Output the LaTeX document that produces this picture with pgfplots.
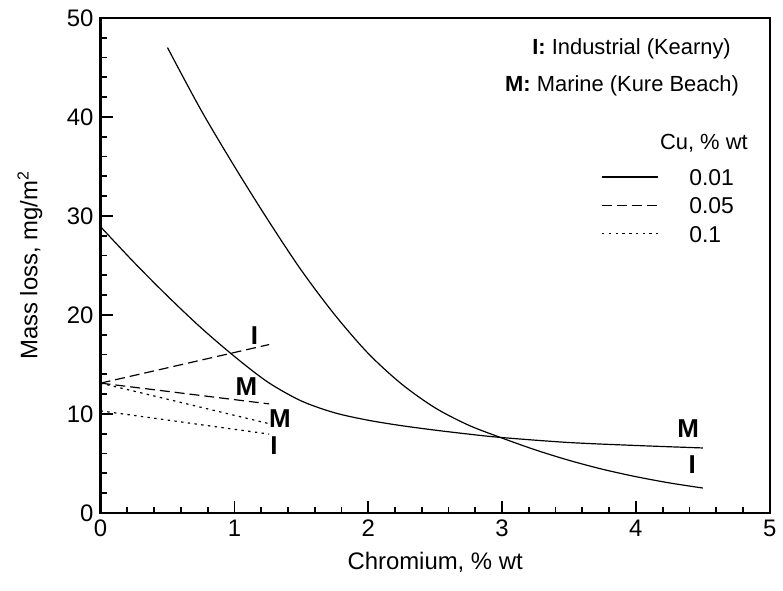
\documentclass[border=0pt]{standalone}
\usepackage{fontspec}
\setmainfont{Liberation Sans}
\usepackage{pgfplots}
\pgfplotsset{compat=1.18}

\begin{document}
\begin{tikzpicture}
\begin{axis}[
    scale only axis,
    width=336pt, height=248.5pt,
    xmin=0, xmax=5, ymin=0, ymax=50,
    xtick={0,1,2,3,4,5},
    ytick={0,10,20,30,40,50},
    minor x tick num=4, minor y tick num=4,
    tick align=inside,
    xtick pos=bottom, ytick pos=left,
    major tick length=6pt, minor tick length=3pt,
    tick style={black, line width=0.9pt},
    axis line style={line width=1.2pt},
    tick label style={font=\fontsize{12}{14}\selectfont},
    /pgf/number format/assume math mode=true,
    label style={font=\fontsize{12}{14}\selectfont},
    xlabel={Chromium, \% wt},
    ylabel={Mass loss, mg/m\textsuperscript{2}},
    xlabel style={at={(axis description cs:0.5,-0.1006)}, anchor=center},
    ylabel style={at={(axis description cs:-0.1057,0.5)}, anchor=center},
    clip=false,
    legend style={draw=none, fill=none, inner sep=0pt,
        at={(axis cs:3.74,34.8)}, anchor=north west,
        font=\fontsize{11.5}{13}\selectfont,
        row sep=5.9pt,
        nodes={inner sep=0pt, text height=8.35pt, text depth=0pt},
        /tikz/every odd column/.append style={column sep=15.5pt}},
    legend cell align=left,
    legend image code/.code={\draw[#1] (0pt,0pt) -- (28pt,0pt);},
]

% Cu 0.01 -- industrial
\addplot[black, line width=0.6pt, smooth] coordinates {
    (0.5,47.0) (0.75,40.7) (1.0,35.0) (1.25,29.6) (1.5,24.5) (1.75,20.0)
    (2.0,16.1) (2.25,13.0) (2.5,10.6) (2.75,8.85) (3.0,7.55) (3.25,6.35)
    (3.5,5.3) (3.75,4.4) (4.0,3.65) (4.25,3.02) (4.5,2.5)
};
\addlegendentry{0.01}
% Cu 0.01 -- marine
\addplot[black, line width=0.6pt, smooth, forget plot] coordinates {
    (0,28.9) (0.25,25.3) (0.5,21.9) (0.75,18.7) (1.0,15.8) (1.25,13.2)
    (1.5,11.3) (1.75,10.1) (2.0,9.35) (2.25,8.8) (2.5,8.35) (2.75,7.95)
    (3.0,7.6) (3.5,7.1) (4.0,6.8) (4.5,6.55)
};
% Cu 0.05
\addplot[black, line width=0.6pt, dash pattern=on 5pt off 2.5pt] coordinates {
    (0,13.1) (1.26,17.0)
};
\addlegendentry{0.05}
\addplot[black, line width=0.6pt, dash pattern=on 5pt off 2.5pt, forget plot] coordinates {
    (0,13.1) (1.26,11.0)
};
% Cu 0.1
\addplot[black, line width=0.6pt, dash pattern=on 1.2pt off 2.2pt] coordinates {
    (0,13.1) (1.26,9.0)
};
\addlegendentry{0.1}
\addplot[black, line width=0.6pt, dash pattern=on 1.2pt off 2.2pt, forget plot] coordinates {
    (0,10.3) (1.26,7.95)
};

\begin{scope}[font=\bfseries\fontsize{13}{15}\selectfont]
\node at (axis cs:1.15,17.9) {I};
\node at (axis cs:1.09,12.7) {M};
\node at (axis cs:1.34,9.5) {M};
\node at (axis cs:1.295,6.8) {I};
\node at (axis cs:4.39,8.46) {M};
\node at (axis cs:4.42,4.9) {I};
\end{scope}

\begin{scope}[font=\fontsize{11}{13}\selectfont]
\node at (axis cs:3.968,46.9) {\textbf{I:} Industrial (Kearny)};
\node at (axis cs:3.897,43.1) {\textbf{M:} Marine (Kure Beach)};
\node at (axis cs:4.508,37.3) {Cu, \% wt};
\end{scope}

\path (axis description cs:-0.1503,-0.1569) rectangle (axis description cs:1.0149,1.0362);
\end{axis}
\end{tikzpicture}
\end{document}
